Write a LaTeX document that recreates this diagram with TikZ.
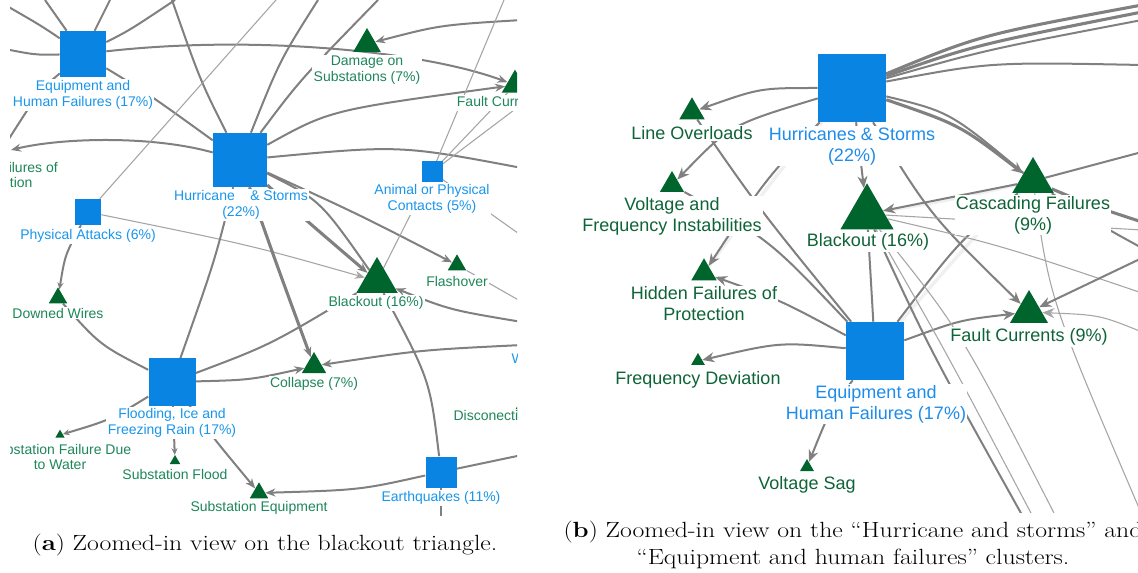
\documentclass[tikz,border=0pt]{standalone}
\usepackage{fontspec}
\usepackage{graphicx}
\usetikzlibrary{shapes.geometric,arrows.meta}
\newfontfamily\labfont{Liberation Sans}
\definecolor{sqblue}{RGB}{10,132,226}
\definecolor{trigreen}{RGB}{0,100,45}
\definecolor{txtgreenA}{RGB}{30,135,90}
\definecolor{txtblueA}{RGB}{25,150,235}
\definecolor{txtgreenB}{RGB}{15,100,55}
\definecolor{txtblueB}{RGB}{30,140,235}
\definecolor{edgegray}{RGB}{128,128,128}
\definecolor{edgelight}{RGB}{165,165,165}
\definecolor{edgeghost}{RGB}{240,240,240}
\pgfdeclarelayer{edgelayer}
\pgfsetlayers{edgelayer,main}
\begin{document}
\begin{tikzpicture}[x=0.75pt,y=-0.75pt,
  sqbox/.style={fill=sqblue, rectangle, minimum size=#1, inner sep=0pt},
  trinode/.style={fill=trigreen, regular polygon, regular polygon sides=3, minimum size=#1, inner sep=0pt},
  labA/.style={font=\labfont\fontsize{10.5}{11.6}\selectfont, align=center, inner sep=1pt, fill=white},
  labgA/.style={labA, text=txtgreenA},
  labbA/.style={labA, text=txtblueA},
  labB/.style={font=\labfont\fontsize{13.5}{15.8}\selectfont, align=center, inner sep=1pt, fill=white},
  labgB/.style={labB, text=txtgreenB},
  labbB/.style={labB, text=txtblueB},
  edn/.style={draw=edgegray, line width=1.5pt},
  edk/.style={draw=edgegray, line width=2.3pt},
  edt/.style={draw=edgelight, line width=0.8pt},
  edg/.style={draw=edgeghost, line width=2.5pt},
  tipA/.style={-{Stealth[length=7.5pt,width=6pt]}},
  tipS/.style={-{Stealth[length=5pt,width=4.5pt]}},
  tipB/.style={-{Stealth[length=9pt,width=7.5pt]}},
  captext/.style={font=\fontsize{16.5}{20.5}\selectfont, inner sep=0pt, align=center},
]
\useasboundingbox (0,0) rectangle (1138,573);
\begin{scope}
\clip (0,0) rectangle (1138,573);

% ---------------- panel (a): nodes ----------------
\begin{scope}
\clip (10,0) rectangle (517,515);
\node[sqbox=34.5pt] (eqA) at (83,54) {};
\node[sqbox=40.5pt] (huA) at (240,160) {};
\node[sqbox=19.5pt] (paA) at (88,212) {};
\node[sqbox=15.75pt] (anA) at (432,172) {};
\node[sqbox=35.25pt] (flA) at (172,382) {};
\node[sqbox=23.25pt] (eaA) at (441,472) {};
\node[trinode=24pt] (dmA) at (367,44) {};
\node[trinode=23pt] (fcA) at (515,85) {};
\node[trinode=36pt] (bkA) at (377,281) {};
\node[trinode=16pt] (fsA) at (457,265) {};
\node[trinode=21pt] (clA) at (314,366) {};
\node[trinode=16pt] (dwA) at (58,298) {};
\node[trinode=8pt] (swA) at (60,435) {};
\node[trinode=9pt] (sfA) at (175,461) {};
\node[trinode=16pt] (seA) at (259,493) {};
\node[trinode=16pt] (dcA) at (523,407) {};
\node[labbA] (eqAl) at (83,95) {Equipment and\\Human Failures (17\%)};
\node[labbA] (huAl) at (241,205) {Hurricane\hspace{1.1em}\& Storms\\(22\%)};
\node[labbA] (paAl) at (88,236) {Physical Attacks (6\%)};
\node[labbA] (anAl) at (432,199) {Animal or Physical\\Contacts (5\%)};
\node[labbA] (flAl) at (172,423) {Flooding, Ice and\\Freezing Rain (17\%)};
\node[labbA] (eaAl) at (441,498) {Earthquakes (11\%)};
\node[labbA, anchor=west] (wiAl) at (510,358) {Wi};
\node[labgA] (dmAl) at (367,70) {Damage on\\Substations (7\%)};
\node[labgA] (fcAl) at (518,103) {Fault Currents (9\%)};
\node[labgA] (bkAl) at (376,303) {Blackout (16\%)};
\node[labgA] (fsAl) at (457,281) {Flashover};
\node[labgA] (clAl) at (314,384) {Collapse (7\%)};
\node[labgA] (dwAl) at (58,313) {Downed Wires};
\node[labgA] (swAl) at (60,457) {Substation Failure Due\\to Water};
\node[labgA] (sfAl) at (175,474) {Substation Flood};
\node[labgA] (seAl) at (259,508) {Substation Equipment};
\node[labgA] (hfAl) at (1,175) {Hidden Failures of\\Protection};
\node[labgA, anchor=west] (dcAl) at (452,415) {Disconection};
\end{scope}

% ---------------- panel (b): nodes ----------------
\begin{scope}
\clip (578,0) rectangle (1138,512);
\node[sqbox=51pt] (huB) at (852,88) {};
\node[sqbox=43.5pt] (eqB) at (875,351) {};
\node[trinode=22pt] (loB) at (692,112) {};
\node[trinode=21pt] (viB) at (672,185) {};
\node[trinode=46pt] (bkB) at (867,214) {};
\node[trinode=36pt] (cfB) at (1033,181) {};
\node[trinode=22pt] (hfB) at (704,273) {};
\node[trinode=12pt] (fdB) at (698,361) {};
\node[trinode=12pt] (vsB) at (807,467) {};
\node[trinode=33pt] (fcB) at (1029,312) {};
\node[labbB] (huBl) at (852,146) {Hurricanes \& Storms\\(22\%)};
\node[labbB] (eqBl) at (876,404) {Equipment and\\Human Failures (17\%)};
\node[labgB] (loBl) at (692,133) {Line Overloads};
\node[labgB] (viBl) at (672,216) {Voltage and\\Frequency Instabilities};
\node[labgB] (bkBl) at (868,242) {Blackout (16\%)};
\node[labgB] (cfBl) at (1033,215) {Cascading Failures\\(9\%)};
\node[labgB] (hfBl) at (704,304) {Hidden Failures of\\Protection};
\node[labgB] (fdBl) at (698,380) {Frequency Deviation};
\node[labgB] (vsBl) at (807,485) {Voltage Sag};
\node[labgB] (fcBl) at (1029,337) {Fault Currents (9\%)};
\end{scope}

% ---------------- captions ----------------
\node[captext] (capA) at (265,545) {\scalebox{1.17}[1]{(\textbf{a}) Zoomed-in view on the blackout triangle.}};
\node[captext] (capB) at (853,545) {\scalebox{1.17}[1]{(\textbf{b}) Zoomed-in view on the “Hurricane and storms” and}\\\scalebox{1.17}[1]{“Equipment and human failures” clusters.}};

% ---------------- edges ----------------
\begin{pgfonlayer}{edgelayer}
\fill[white] (0,0) rectangle (1138,573);
\begin{scope}
\clip (10,0) rectangle (517,515);
\coordinate (a1) at (0,2);
\coordinate (a2) at (0,48);
\coordinate (a3) at (45,0);
\coordinate (a4) at (110,0);
\coordinate (a5) at (175,0);
\coordinate (a6) at (5,145);
\coordinate (hfA) at (11,150);
\coordinate (a7) at (172,0);
\coordinate (a8) at (318,0);
\coordinate (a9) at (378,0);
\coordinate (a11) at (276,0);
\coordinate (a12) at (522,455);
\coordinate (a13) at (441,520);
\coordinate (a14) at (522,345);
\coordinate (a15) at (522,322);
\coordinate (a16) at (522,302);
\coordinate (a17) at (522,20);
\coordinate (a18) at (522,168);
\coordinate (a19) at (522,236);
\coordinate (a20) at (504,0);
\coordinate (a21) at (522,104);
\draw[edn] (eqA) .. controls (40,25) .. (a1);
\draw[edn] (eqA) .. controls (35,55) .. (a2);
\draw[edn] (eqA) -- (a3);
\draw[edn] (eqA) -- (a4);
\draw[edn] (eqA) .. controls (130,30) .. (a5);
\draw[edn] (eqA) .. controls (150,95) .. (huA);
\draw[edn,tipA] (eqA) .. controls (250,35) and (420,50) .. (fcA);
\draw[edn] (eqA) .. controls (40,90) .. (a6);
\draw[edn,tipA] (huA) .. controls (150,135) and (60,138) .. (hfA);
\draw[edn] (huA) .. controls (200,80) .. (a7);
\draw[edn] (huA) .. controls (280,60) .. (a8);
\draw[edn] (huA) .. controls (300,80) .. (a9);
\draw[edt] (paA) -- (a11);
\draw[edn,tipS] (paA) .. controls (65,255) .. (dwA);
\draw[edt,tipA] (paA) .. controls (250,245) .. (bkA);
\draw[edk,tipA] (huA) .. controls (300,215) .. (bkA);
\draw[edn] (huA) .. controls (320,200) .. (bkA);
\draw[edn,tipA] (huA) .. controls (360,215) .. (fsA);
\draw[edk,tipA] (huA) .. controls (275,260) .. (clA);
\draw[edn] (huA) .. controls (215,260) .. (flA);
\draw[edn] (flA) .. controls (270,345) .. (bkA);
\draw[edn,tipA] (flA) .. controls (250,380) .. (clA);
\draw[edn] (flA) .. controls (100,345) .. (dwA);
\draw[edn,tipS] (flA) .. controls (110,420) .. (swA);
\draw[edn,tipS] (flA) -- (sfA);
\draw[edn,tipA] (flA) .. controls (215,440) .. (seA);
\draw[edn,tipA] (eaA) .. controls (360,490) .. (seA);
\draw[edn] (eaA) .. controls (430,380) .. (bkA);
\draw[edn] (eaA) -- (a12);
\draw[edn] (eaA) -- (a13);
\draw[edn,tipA] (a14) .. controls (420,350) .. (clA);
\draw[edn,tipA] (a15) .. controls (450,310) .. (bkA);
\draw[edt] (fsA) -- (a16);
\draw[edn,tipA] (a17) .. controls (440,25) .. (dmA);
\draw[edn,tipA] (huA) .. controls (330,110) .. (fcA);
\draw[edn] (huA) .. controls (400,145) .. (a18);
\draw[edt] (anA) -- (fcA);
\draw[edt] (anA) -- (bkA);
\draw[edt] (anA) -- (a19);
\draw[edt] (anA) -- (a20);
\draw[edt] (anA) -- (a21);
\end{scope}
\begin{scope}
\clip (578,0) rectangle (1138,512);
\coordinate (b1) at (1142,5);
\coordinate (b2) at (1142,12);
\coordinate (b3) at (1142,20);
\coordinate (b4) at (1142,65);
\coordinate (b5) at (1022,515);
\coordinate (b6) at (1032,515);
\coordinate (b7) at (1055,515);
\coordinate (b8) at (1142,152);
\coordinate (b9) at (1142,222);
\coordinate (b10) at (1142,248);
\coordinate (b11) at (1142,515);
\coordinate (b12) at (1142,293);
\coordinate (b13) at (1142,230);
\coordinate (b14) at (1142,258);
\coordinate (b15) at (1142,332);
\draw[edg] (huB) .. controls (780,170) .. (hfB);
\draw[edg] (bkB) .. controls (950,200) .. (cfB);
\draw[edg] (eqB) .. controls (980,230) .. (cfB);
\draw[edk] (huB) .. controls (980,35) .. (b1);
\draw[edk] (huB) .. controls (975,45) .. (b2);
\draw[edn] (huB) .. controls (985,50) .. (b3);
\draw[edn] (huB) .. controls (990,62) .. (b4);
\draw[edn,tipB] (huB) .. controls (760,88) .. (loB);
\draw[edn,tipB] (huB) .. controls (730,125) .. (viB);
\draw[edn,tipB] (huB) -- (bkB);
\draw[edk,tipB] (huB) .. controls (960,125) .. (cfB);
\draw[edn] (huB) .. controls (950,112) .. (cfB);
\draw[edn,tipB] (huB) .. controls (930,215) .. (fcB);
\draw[edn,tipB] (huB) .. controls (765,180) .. (hfB);
\draw[edn] (loB) .. controls (760,210) .. (eqB);
\draw[edn] (viB) .. controls (770,240) .. (eqB);
\draw[edn,tipB] (eqB) .. controls (780,300) .. (hfB);
\draw[edn,tipB] (eqB) .. controls (780,342) .. (fdB);
\draw[edn,tipB] (eqB) .. controls (830,410) .. (vsB);
\draw[edn,tipB] (eqB) .. controls (960,320) .. (fcB);
\draw[edn] (eqB) .. controls (960,240) .. (cfB);
\draw[edn] (eqB) -- (bkB);
\draw[edn] (bkB) .. controls (930,350) .. (b5);
\draw[edt] (bkB) .. controls (945,350) .. (b6);
\draw[edt] (bkB) .. controls (960,330) .. (b7);
\draw[edn,tipB] (cfB) -- (bkB);
\draw[edn] (b8) -- (cfB);
\draw[edk] (cfB) .. controls (1090,205) .. (b9);
\draw[edn] (cfB) .. controls (1100,225) .. (b10);
\draw[edt] (cfB) .. controls (1050,300) .. (b11);
\draw[edt] (bkB) .. controls (1000,245) .. (b12);
\draw[edt] (b13) -- (bkB);
\draw[edn,tipB] (b14) -- (fcB);
\draw[edt,tipB] (b15) .. controls (1100,315) .. (fcB);
\end{scope}
\end{pgfonlayer}
\end{scope}
\end{tikzpicture}
\end{document}
